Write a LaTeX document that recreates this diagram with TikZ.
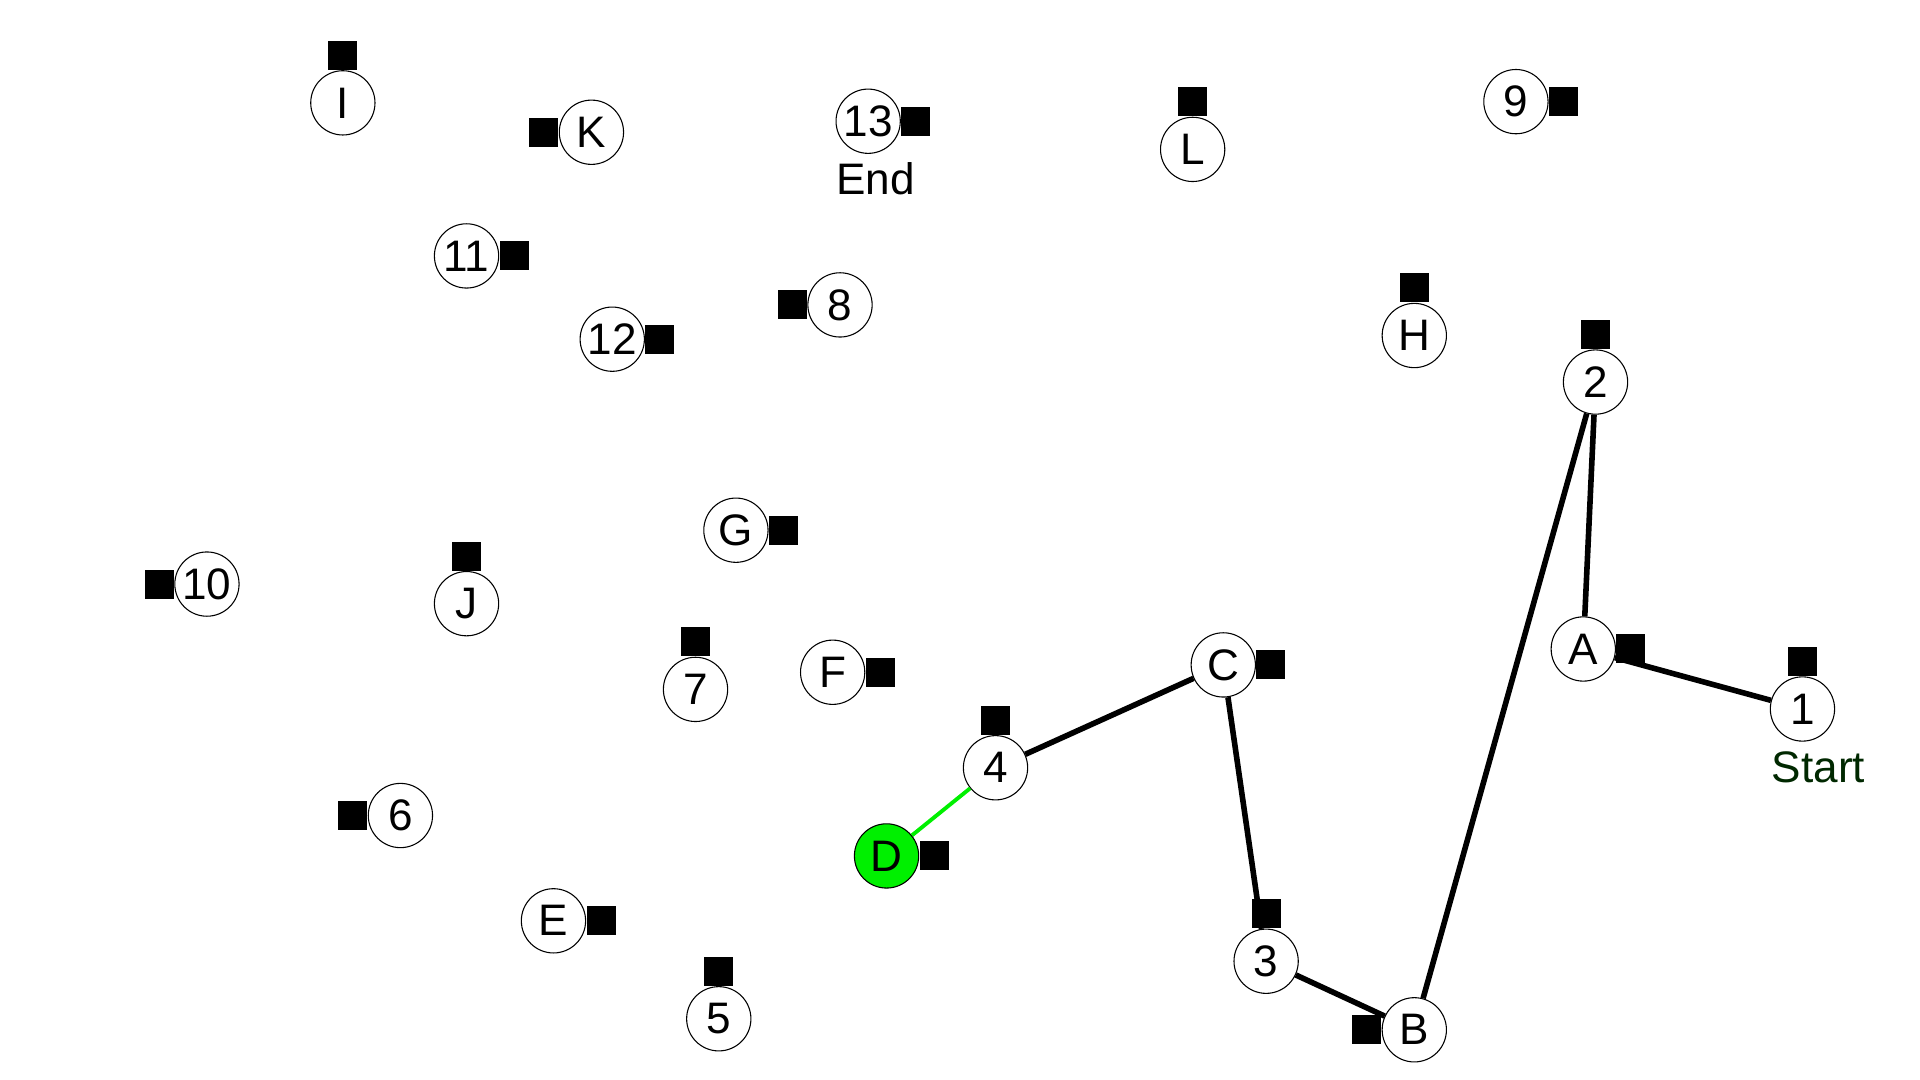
\documentclass[tikz,border=0pt]{standalone}
\usepackage{fontspec}
\setmainfont{Liberation Sans}
\definecolor{startgreen}{RGB}{0,40,0}
\definecolor{brightgreen}{RGB}{0,240,0}
\begin{document}
\begin{tikzpicture}[x=0.02cm,y=-0.02cm,
  vtx/.style={circle,draw=black,line width=0.5pt,fill=white,minimum size=1.05cm,inner sep=0pt,font=\fontsize{20.5}{24}\selectfont},
  sq/.style={rectangle,fill=black,minimum size=0.474cm,inner sep=0pt},
  lbl/.style={inner sep=0pt,font=\fontsize{20.5}{24}\selectfont},
  route/.style={line width=2.6pt,black},
  lastleg/.style={line width=1.8pt,brightgreen}]
\useasboundingbox (0,0) rectangle (1568,882);
% vertices
\node[vtx] (I) at (280,84) {I};
\node[sq,anchor=south] (sI) at (I.north) {};
\node[vtx] (K) at (483,108) {K};
\node[sq,anchor=east] (sK) at (K.west) {};
\node[vtx] (n13) at (709,99) {13};
\node[sq,anchor=west] (s13) at (n13.east) {};
\node[vtx] (L) at (974,122) {L};
\node[sq,anchor=south] (sL) at (L.north) {};
\node[vtx] (n9) at (1238,83) {9};
\node[sq,anchor=west] (s9) at (n9.east) {};
\node[vtx] (n11) at (381,209) {11};
\node[sq,anchor=west] (s11) at (n11.east) {};
\node[vtx] (n12) at (500,277) {12};
\node[sq,anchor=west] (s12) at (n12.east) {};
\node[vtx] (n8) at (686,249) {8};
\node[sq,anchor=east] (s8) at (n8.west) {};
\node[vtx] (H) at (1155,274) {H};
\node[sq,anchor=south] (sH) at (H.north) {};
\node[vtx] (n2) at (1303,312) {2};
\node[sq,anchor=south] (s2) at (n2.north) {};
\node[vtx] (G) at (601,433) {G};
\node[sq,anchor=west] (sG) at (G.east) {};
\node[vtx] (n10) at (169,477) {10};
\node[sq,anchor=east] (s10) at (n10.west) {};
\node[vtx] (J) at (381,493) {J};
\node[sq,anchor=south] (sJ) at (J.north) {};
\node[vtx] (n7) at (568,563) {7};
\node[sq,anchor=south] (s7) at (n7.north) {};
\node[vtx] (F) at (680,549) {F};
\node[sq,anchor=west] (sF) at (F.east) {};
\node[vtx] (C) at (999,543) {C};
\node[sq,anchor=west] (sC) at (C.east) {};
\node[vtx] (A) at (1293,530) {A};
\node[sq,anchor=west] (sA) at (A.east) {};
\node[vtx] (n1) at (1472,579) {1};
\node[sq,anchor=south] (s1) at (n1.north) {};
\node[vtx] (n4) at (813,627) {4};
\node[sq,anchor=south] (s4) at (n4.north) {};
\node[vtx] (n6) at (327,666) {6};
\node[sq,anchor=east] (s6) at (n6.west) {};
\node[vtx,fill=brightgreen] (D) at (724,699) {D};
\node[sq,anchor=west] (sD) at (D.east) {};
\node[vtx] (E) at (452,752) {E};
\node[sq,anchor=west] (sE) at (E.east) {};
\node[vtx] (n3) at (1034,785) {3};
\node[sq,anchor=south] (s3) at (n3.north) {};
\node[vtx] (n5) at (587,832) {5};
\node[sq,anchor=south] (s5) at (n5.north) {};
\node[vtx] (B) at (1155,841) {B};
\node[sq,anchor=east] (sB) at (B.west) {};
% labels
\node[lbl] (endlbl) at (715,146) {End};
\node[lbl,text=startgreen] (startlbl) at (1485,627) {Start};
% route
\draw[route] (n1) -- (A);
\draw[route] (A) -- (n2);
\draw[route] (n2) -- (B);
\draw[route] (B) -- (n3);
\draw[route] (n3) -- (C);
\draw[route] (C) -- (n4);
\draw[lastleg] (n4) -- (D);
\end{tikzpicture}
\end{document}
